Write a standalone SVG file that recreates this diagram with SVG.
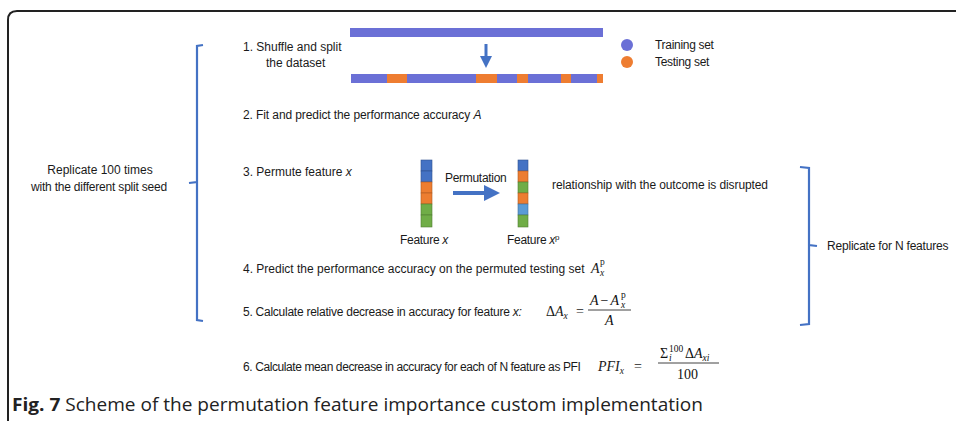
<svg xmlns="http://www.w3.org/2000/svg" width="956" height="421" viewBox="0 0 956 421">
<style>
.t{font-family:"Liberation Sans",Arial,sans-serif;font-size:12px;fill:#1a1a1a}
.m{font-family:"Liberation Serif","Times New Roman",serif;font-size:14px;fill:#111;font-style:italic}
.mu{font-family:"Liberation Serif","Times New Roman",serif;font-size:14px;fill:#111}
.mt{font-family:"Liberation Serif","Times New Roman",serif;font-size:14px;letter-spacing:0}
.s{font-size:9.5px}
.br{fill:none;stroke:#4472c4;stroke-width:2.2}
.tr{fill:#6b70d6}
.te{fill:#ee7d31}
.cb{fill:#4472c4;stroke:#2f528f;stroke-width:0.6}
.co{fill:#ed7d31;stroke:#ae5a21;stroke-width:0.6}
.cg{fill:#70ad47;stroke:#507e32;stroke-width:0.6}
.cl{fill:#5b9bd5;stroke:#41719c;stroke-width:0.6}
</style>
<defs>
<marker id="ah" markerWidth="4" markerHeight="4" refX="2" refY="2" orient="auto" markerUnits="strokeWidth">
<path d="M0,0 L4,2 L0,4 Z" fill="#4472c4"/>
</marker>
</defs>
<rect width="956" height="421" fill="#fff"/>
<path d="M8,421 L8,20 Q8,11 17,11 L956,11" fill="none" stroke="#222" stroke-width="2"/>

<g id="left-brace">
<path class="br" d="M203,45 L197,46 L197,182 L189,183 M197,183 L197,320 L203,321"/>
<text class="t" x="100" y="174" text-anchor="middle">Replicate 100 times</text>
<text class="t" x="99" y="191" text-anchor="middle" letter-spacing="-0.2">with the different split seed</text>
</g>

<g id="right-brace">
<path class="br" d="M800,167 L809,168 L809,245 L817,246 M809,246 L809,324 L800,325"/>
<text class="t" x="827" y="250" font-size="11.5" letter-spacing="-0.2">Replicate for N features</text>
</g>

<g id="step1">
<text class="t" x="243" y="51">1. Shuffle and split</text>
<text class="t" x="266" y="67">the dataset</text>
<rect class="tr" x="350" y="28" width="253" height="9"/>
<rect class="tr" x="351" y="74" width="252" height="9"/>
<rect class="te" x="387" y="74" width="20" height="9"/>
<rect class="te" x="476" y="74" width="21" height="9"/>
<rect class="te" x="517" y="74" width="11" height="9"/>
<rect class="te" x="561" y="74" width="10" height="9"/>
<rect class="te" x="597" y="74" width="6" height="9"/>
</g>

<g id="legend">
<circle class="tr" cx="627" cy="45" r="6"/>
<circle class="te" cx="627" cy="62" r="6"/>
<text class="t" x="655" y="49" letter-spacing="-0.3">Training set</text>
<text class="t" x="655" y="66" letter-spacing="-0.3">Testing set</text>
</g>

<g id="step2">
<text class="t" x="243" y="119" letter-spacing="-0.1">2. Fit and predict the performance accuracy <tspan font-style="italic">A</tspan></text>
</g>

<g id="step3">
<text class="t" x="243" y="176">3. Permute feature <tspan font-style="italic">x</tspan></text>
</g>

<g id="feature-x">
<rect class="cb" x="421" y="160" width="11" height="11"/>
<rect class="cb" x="421" y="171" width="11" height="11"/>
<rect class="co" x="421" y="182" width="11" height="11"/>
<rect class="co" x="421" y="193" width="11" height="11"/>
<rect class="cg" x="421" y="204" width="11" height="11"/>
<rect class="cg" x="421" y="215" width="11" height="12"/>
<text class="t" x="400" y="244" letter-spacing="-0.3">Feature <tspan font-style="italic">x</tspan></text>
</g>

<g id="feature-xp">
<rect class="cb" x="518" y="160" width="10" height="11"/>
<rect class="co" x="518" y="171" width="10" height="11"/>
<rect class="cg" x="518" y="182" width="10" height="11"/>
<rect class="co" x="518" y="193" width="10" height="11"/>
<rect class="cl" x="518" y="204" width="10" height="11"/>
<rect class="cg" x="518" y="215" width="10" height="12"/>
<text class="t" x="507" y="244" letter-spacing="-0.3">Feature <tspan font-style="italic">x</tspan><tspan font-size="8" dy="-4">p</tspan></text>
</g>

<g id="connectors">
<line x1="486" y1="44" x2="486" y2="62" stroke="#4472c4" stroke-width="3" marker-end="url(#ah)"/>
<line x1="453" y1="193" x2="492" y2="193" stroke="#4472c4" stroke-width="4" marker-end="url(#ah)"/>
</g>

<g id="permutation-label">
<text class="t" x="445" y="182" letter-spacing="-0.3">Permutation</text>
<text class="t" x="552" y="189" letter-spacing="-0.1">relationship with the outcome is disrupted</text>
</g>

<g id="step4">
<text class="t" x="243" y="273">4. Predict the performance accuracy on the permuted testing set<tspan class="mt" x="591" font-style="italic">A</tspan><tspan class="mt s" x="600" dy="-8">p</tspan><tspan class="mt s" x="600" dy="11" font-style="italic">x</tspan></text>
</g>

<g id="step5">
<text class="t" x="243" y="316" letter-spacing="-0.25">5. Calculate relative decrease in accuracy for feature <tspan font-style="italic">x:</tspan><tspan class="mt" x="546">Δ</tspan><tspan class="mt" font-style="italic">A</tspan><tspan class="mt s" font-style="italic" dy="3">x</tspan><tspan class="mt" x="576" dy="-3">=</tspan></text>
<text class="m" x="590" y="305">A<tspan font-style="normal" dx="2">−</tspan><tspan dx="2">A</tspan><tspan class="s" x="621" dy="-7" font-style="normal">p</tspan><tspan class="s" x="621" dy="10">x</tspan></text>
<line x1="588" y1="310" x2="631" y2="310" stroke="#111" stroke-width="0.8"/>
<text class="m" x="605" y="325">A</text>
</g>

<g id="step6">
<text class="t" x="243" y="371" letter-spacing="-0.4">6. Calculate mean decrease in accuracy for each of N feature as PFI<tspan class="mt" x="598" font-style="italic">PFI</tspan><tspan class="mt s" font-style="italic" dy="3">x</tspan><tspan class="mt" x="634" dy="-3">=</tspan></text>
<text class="mu" x="660" y="358">Σ<tspan class="s" x="669" dy="-6">100</tspan><tspan class="s" x="669" dy="9" font-style="italic">i</tspan><tspan x="685" dy="-3">Δ</tspan><tspan font-style="italic">A</tspan><tspan class="s" font-style="italic" dy="3">xi</tspan></text>
<line x1="658" y1="363" x2="719" y2="363" stroke="#111" stroke-width="0.8"/>
<text class="mu" x="677" y="379">100</text>
</g>

<g id="caption">
<text x="12" y="411" font-family="'Open Sans','Liberation Sans',sans-serif" font-size="18" fill="#222" textLength="691" lengthAdjust="spacingAndGlyphs"><tspan font-weight="bold">Fig. 7</tspan> Scheme of the permutation feature importance custom implementation</text>
</g>
</svg>
